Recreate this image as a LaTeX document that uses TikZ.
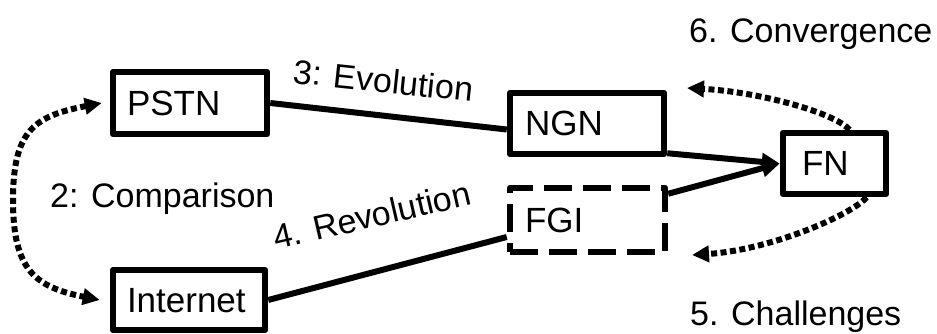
\documentclass[tikz,border=0pt]{standalone}
\usepackage{fontspec}
\setmainfont{Liberation Sans}
\usetikzlibrary{arrows.meta}
\begin{document}
\begin{tikzpicture}[x=1pt,y=1pt,
  lbl/.style={font=\fontsize{34}{40}\selectfont, inner sep=0pt},
  box/.style={draw, line width=6.5pt, line join=round, inner ysep=0pt,
    text height=25pt, text depth=0pt, align=left, font=\fontsize{35}{40}\selectfont},
  conn/.style={line width=6pt},
  tipend/.style={-{Triangle[length=18pt,width=17pt]}},
  dots/.style={line width=6pt, dash pattern=on 6pt off 3.5pt},
  dtipend/.style={-{Triangle[length=17pt,width=16pt]}},
  dtipboth/.style={{Triangle[length=17pt,width=16pt]}-{Triangle[length=17pt,width=16pt]}}
]
\useasboundingbox (0,0) rectangle (937,334);

% boxes
\node[box, minimum height=62pt, inner xsep=14pt, text width=126pt] (PSTN) at (190,231) {PSTN};
\node[box, minimum height=60pt, inner xsep=14pt, text width=124pt] (Internet) at (189,34) {Internet};
\node[box, minimum height=61pt, inner xsep=15pt, text width=124pt] (NGN) at (587,210.5) {NGN};
\node[box, dash pattern=on 28pt off 11pt, minimum height=64pt, inner xsep=15pt, text width=125pt] (FGI) at (587.5,114) {FGI};
\node[box, minimum height=61pt, inner xsep=19pt, text width=65pt] (FN) at (834.5,170.5) {FN};

% free ends
\coordinate (cmp) at (13,134);
\coordinate (cv) at (687,246);
\coordinate (ch) at (692,79);

% connectors
\draw[conn] (PSTN.east) -- ([yshift=-6pt]NGN.west);
\draw[conn] (Internet.east) -- ([yshift=-17pt]FGI.west);
\draw[conn, tipend] ([yshift=4pt]NGN.south east) -- (FN.west);
\draw[conn, tipend] ([yshift=-9pt]FGI.north east) -- (FN.west);

% dotted curved arrows
\draw[dots, dtipboth] ([xshift=-8pt]PSTN.west) .. controls +(-67,-13) and +(0,70) .. (cmp)
  .. controls +(0,-70) and +(-65,13) .. ([xshift=-10pt]Internet.west);
\draw[dots, dtipend] ([xshift=15pt]FN.north) .. controls +(-15,17) and +(73,-4) .. (cv);
\draw[dots, dtipend] ([xshift=32pt]FN.south) .. controls +(-15,-18) and +(78,5) .. (ch);

% labels
\node[lbl, anchor=base west] (l2) at (50,126) {2: Comparison};
\node[lbl, anchor=base west, rotate=-6] (l3) at (292,251) {3: Evolution};
\node[lbl, anchor=base west, rotate=13] (l4) at (276,84) {4. Revolution};
\node[lbl, anchor=base west] (l5) at (690,8) {5. Challenges};
\node[lbl, anchor=base west] (l6) at (689,291) {6. Convergence};
\end{tikzpicture}
\end{document}
